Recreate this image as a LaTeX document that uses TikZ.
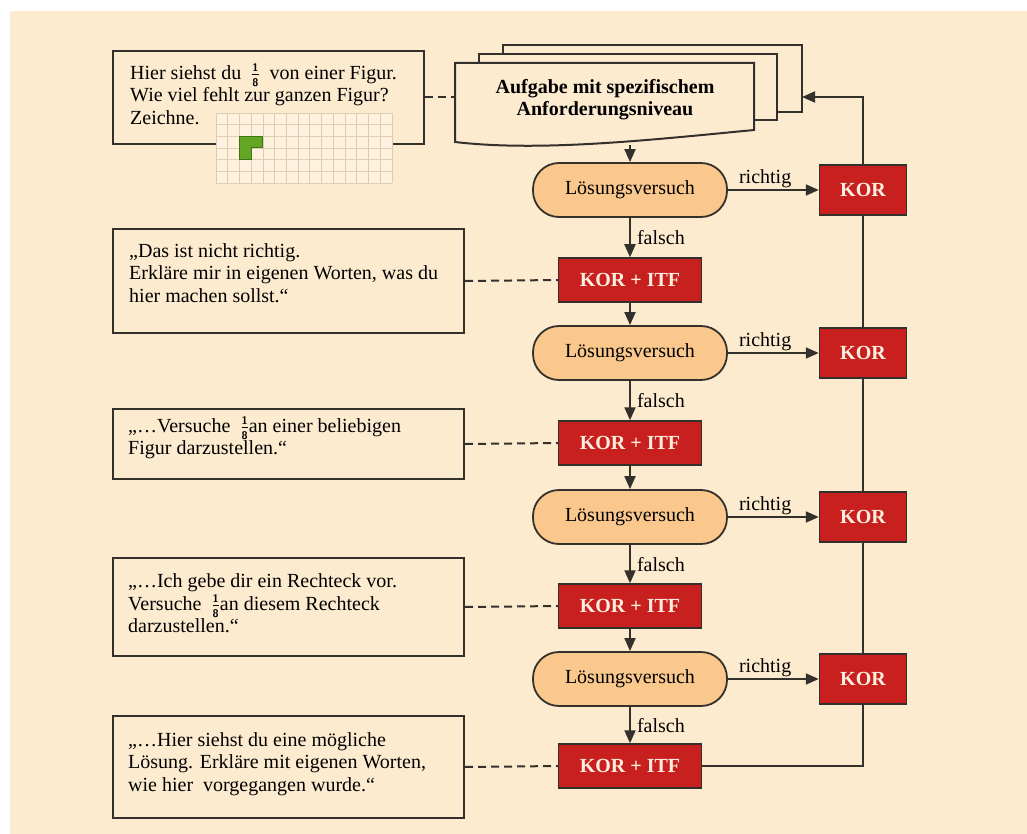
\documentclass[tikz,border=0pt]{standalone}
\usepackage{fontspec}
\setmainfont{Liberation Serif}
\usetikzlibrary{arrows.meta}
\definecolor{cream}{RGB}{253,235,208}
\definecolor{gridbg}{RGB}{254,241,222}
\definecolor{gridln}{RGB}{222,205,180}
\definecolor{korred}{RGB}{200,32,30}
\definecolor{kortext}{RGB}{252,238,222}
\definecolor{lvorange}{RGB}{250,200,140}
\definecolor{lnc}{RGB}{52,48,44}
\definecolor{lgreen}{RGB}{98,166,36}
\definecolor{dgreen}{RGB}{62,118,22}
\newcommand\fracdigit[1]{\hbox{\fontsize{11}{11}\selectfont\sffamily\bfseries #1}}
\newcommand\achtel{\ensuremath{\frac{\fracdigit{1}}{\fracdigit{8}}}}
\begin{document}
\begin{tikzpicture}[x=1pt,y=-1pt,
  font=\fontsize{20}{22.7}\selectfont,
  txtbox/.style={draw=lnc, line width=2pt, inner sep=0pt, anchor=north west},
  txt/.style={anchor=north west, inner sep=0pt, align=left},
  lvbox/.style={draw=lnc, line width=1.8pt, fill=lvorange, rounded corners=26pt,
    minimum width=194pt, minimum height=54pt, inner sep=0pt},
  korbox/.style={draw=lnc, line width=1.5pt, fill=korred, text=kortext,
    font=\fontsize{20}{22.7}\selectfont\bfseries, minimum width=87pt, minimum height=50pt, inner sep=0pt},
  kifbox/.style={korbox, minimum width=143pt, minimum height=44pt},
  docbox/.style={draw=lnc, line width=2pt, fill=cream, inner sep=0pt},
  conn/.style={draw=lnc, line width=2pt, -{Triangle[length=13pt,width=11pt]}},
  plain/.style={draw=lnc, line width=2pt},
  dashline/.style={draw=lnc, line width=2pt, dash pattern=on 8pt off 5pt},
  lab/.style={inner sep=1pt}
]
\useasboundingbox (0,0) rectangle (1027,834);
\fill[white] (0,0) rectangle (1027,834);
\fill[cream] (10,11) rectangle (1027,834);

% document stack
\node[docbox, minimum width=299pt, minimum height=67pt] (doc3) at (652.5,78.5) {};
\node[docbox, minimum width=298pt, minimum height=66pt] (doc2) at (628,87) {};
\fill[cream] (455,63) -- (754,63) -- (754,130) .. controls (650,140) and (540,152) .. (455,142) -- cycle;
\draw[plain, line join=miter] (455,63) -- (754,63) -- (754,130) .. controls (650,140) and (540,152) .. (455,142) -- cycle;
\node[inner sep=0pt, minimum width=299pt, align=center, font=\fontsize{20}{22}\selectfont\bfseries] (doc) at (605,99.5)
  {Aufgabe mit spezifischem\\Anforderungsniveau};
\coordinate (docb) at (630,145);
\coordinate (docin) at (802,97);

% left text boxes
\node[txtbox, minimum width=311pt, minimum height=93pt] (b1) at (112,50) {};
\node[txt] (t1) at (130,63) {Hier siehst du \ \achtel\ \ von einer Figur.\\Wie viel fehlt zur ganzen Figur?\\Zeichne.};
\begin{scope}[shift={(216,113)}]
  \fill[gridbg] (0,0) rectangle (176,70);
  \foreach \c in {0,...,15} {
    \draw[gridln, line width=0.8pt] ({\c*11.7333},0) -- ({\c*11.7333},70);
  }
  \foreach \r in {0,...,6} {
    \draw[gridln, line width=0.8pt] (0,{\r*11.6667}) -- (176,{\r*11.6667});
  }
  \draw[fill=lgreen, draw=dgreen, line width=1pt] (23.47,23.33) -- (46.93,23.33) -- (46.93,35) -- (35.2,35) -- (35.2,46.67) -- (23.47,46.67) -- cycle;
\end{scope}

\node[txtbox, minimum width=351pt, minimum height=104pt] (b2) at (112,228) {};
\node[txt] (t2) at (129,243) {„Das ist nicht richtig.\\Erkläre mir in eigenen Worten, was du\\hier machen sollst.“};
\node[txtbox, minimum width=351pt, minimum height=70pt] (b3) at (112,408) {};
\node[txt] (t3) at (128,416) {„…Versuche \ \achtel an einer beliebigen\\Figur darzustellen.“};
\node[txtbox, minimum width=351pt, minimum height=98pt] (b4) at (112,557) {};
\node[txt] (t4) at (128,573.5) {„…Ich gebe dir ein Rechteck vor.\\Versuche \ \achtel an diesem Rechteck\\darzustellen.“};
\node[txtbox, minimum width=351pt, minimum height=102pt] (b5) at (112,715) {};
\node[txt] (t5) at (128,732) {„…Hier siehst du eine mögliche\\Lösung. Erkläre mit eigenen Worten,\\wie hier\ \ vorgegangen wurde.“};

% flow nodes
\node[lvbox] (lv1) at (630,190) {Lösungsversuch};
\node[lvbox] (lv2) at (630,353) {Lösungsversuch};
\node[lvbox] (lv3) at (630,517) {Lösungsversuch};
\node[lvbox] (lv4) at (630,679) {Lösungsversuch};
\node[kifbox] (kif1) at (630,280) {KOR + ITF};
\node[kifbox] (kif2) at (630,443) {KOR + ITF};
\node[kifbox] (kif3) at (630,606) {KOR + ITF};
\node[kifbox] (kif4) at (630,766) {KOR + ITF};
\node[korbox] (kor1) at (863,190) {KOR};
\node[korbox] (kor2) at (863,353) {KOR};
\node[korbox] (kor3) at (863,517) {KOR};
\node[korbox] (kor4) at (863,679) {KOR};

% connectors
\draw[conn] (docb) -- (lv1);
\foreach \i/\j in {1/2,2/3,3/4} {
  \draw[conn] (kif\i) -- (lv\j);
}
\foreach \i in {1,2,3,4} {
  \draw[conn] (lv\i) -- node[lab, right, xshift=5pt] {falsch} (kif\i);
  \draw[conn] (lv\i) -- node[lab, above, pos=0.41] {richtig} (kor\i);
}
\draw[plain] (kif4.east) -| (kor4.south);
\draw[plain] (kor4) -- (kor3);
\draw[plain] (kor3) -- (kor2);
\draw[plain] (kor2) -- (kor1);
\draw[conn] (kor1.north) |- (docin);

% dashed links
\draw[dashline] (b1.east) -- (b1.east -| doc.west);
\draw[dashline] (b2.east) -- (kif1.west);
\draw[dashline] (b3.east) -- (kif2.west);
\draw[dashline] (b4.east) -- (kif3.west);
\draw[dashline] (b5.east) -- (kif4.west);
\end{tikzpicture}
\end{document}
